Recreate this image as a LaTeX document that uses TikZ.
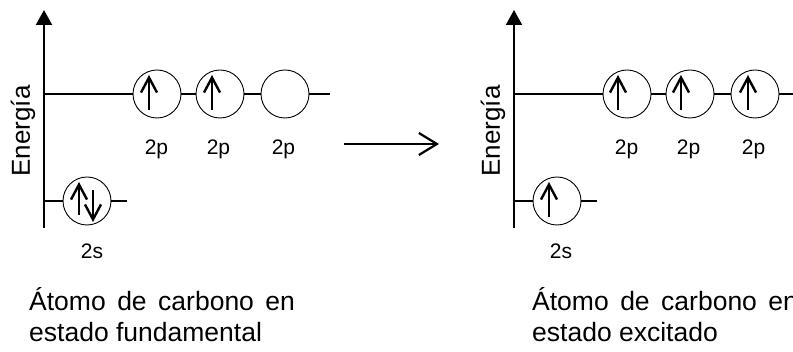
\documentclass[tikz,border=0pt]{standalone}
\usepackage{fontspec}
\setmainfont{Liberation Sans}
\usetikzlibrary{arrows.meta}

\newcommand{\legendfont}{\fontsize{26.5}{30}\selectfont}
\newcommand{\legendwidefont}{\fontsize{26.5}{30}\selectfont\spaceskip 11.5pt\relax}

\tikzset{
  orb/.style = {circle, draw, line width=0.9pt, minimum size=48pt, inner sep=0pt},
  level/.style = {line width=1.8pt},
  axis/.style = {line width=2pt, -{Triangle[length=15pt, width=16pt]}},
  spin/.style = {line width=2.4pt, -{Straight Barb[length=15pt, width=16pt]}},
  react/.style = {line width=2.2pt, -{Straight Barb[length=18pt, width=22pt]}},
  lbl/.style = {font=\fontsize{21}{24}\selectfont, inner sep=0pt, anchor=base},
  legend/.style = {font=\legendfont, inner sep=0pt, anchor=base west},
  legendwide/.style = {legend, font=\legendwidefont},
}

\begin{document}
\begin{tikzpicture}[x=1pt, y=-1pt]
		\useasboundingbox (0,0) rectangle (793,352);
		%%%%%%%%%%%%% estado fundamental
		\coordinate (a0) at (44,228); \coordinate (a1) at (44,10);
		\coordinate (ap0) at (44,94); \coordinate (ap4) at (330,94);
		\coordinate (as0) at (44,201); \coordinate (as2) at (127,201);
		\node [orb] (ap1) at (157,94) {};
		\node [orb] (ap2) at (220,94) {};
		\node [orb] (ap3) at (285,94) {};
		\node [orb] (as1) at (87,201) {};
		\node [rotate=90, font=\fontsize{26}{30}\selectfont] (ea) at (23,131) {Energía};
		\node [lbl] (lap1) at (156.5,155) {2p};
		\node [lbl] (lap2) at (218.5,155) {2p};
		\node [lbl] (lap3) at (283.5,155) {2p};
		\node [lbl] (las1) at (92,259) {2s};
		\node [legendwide] (ca1) at (29,311) {Átomo de carbono en};
		\node [legend] (ca2) at (29,342) {estado fundamental};
		%%%%%%%%%%%%%
		\draw [axis] (a0) -- (a1);
		\draw [level] (ap0) -- (ap1); \draw [level] (ap1) -- (ap2);
		\draw [level] (ap2) -- (ap3); \draw [level] (ap3) -- (ap4);
		\draw [level] (as0) -- (as1); \draw [level] (as1) -- (as2);
		\draw [spin] ([shift={(-8,16)}]ap1.center) -- ++(0,-35);
		\draw [spin] ([shift={(-8,16)}]ap2.center) -- ++(0,-35);
		\draw [spin] ([shift={(-8,14)}]as1.center) -- ++(0,-33);
		\draw [spin] ([shift={(6,-11)}]as1.center) -- ++(0,32);
		%%%%%%%%%%%%% reaccion
		\coordinate (go0) at (344,144); \coordinate (go1) at (439,144);
		\draw [react] (go0) -- (go1);
		%%%%%%%%%%%%% estado excitado
		\coordinate (b0) at (514,228); \coordinate (b1) at (514,10);
		\coordinate (bp0) at (514,94); \coordinate (bp4) at (800,94);
		\coordinate (bs0) at (514,201); \coordinate (bs2) at (597,201);
		\node [orb] (bp1) at (627,94) {};
		\node [orb] (bp2) at (690,94) {};
		\node [orb] (bp3) at (755,94) {};
		\node [orb] (bs1) at (557,201) {};
		\node [rotate=90, font=\fontsize{26}{30}\selectfont] (eb) at (493,131) {Energía};
		\node [lbl] (lbp1) at (626.5,155) {2p};
		\node [lbl] (lbp2) at (688.5,155) {2p};
		\node [lbl] (lbp3) at (753.5,155) {2p};
		\node [lbl] (lbs1) at (561,259) {2s};
		\node [legendwide] (cb1) at (532,311) {Átomo de carbono en};
		\node [legend] (cb2) at (532,342) {estado excitado};
		%%%%%%%%%%%%%
		\draw [axis] (b0) -- (b1);
		\draw [level] (bp0) -- (bp1); \draw [level] (bp1) -- (bp2);
		\draw [level] (bp2) -- (bp3); \draw [level] (bp3) -- (bp4);
		\draw [level] (bs0) -- (bs1); \draw [level] (bs1) -- (bs2);
		\draw [spin] ([shift={(-9,16)}]bp1.center) -- ++(0,-35);
		\draw [spin] ([shift={(-9,16)}]bp2.center) -- ++(0,-35);
		\draw [spin] ([shift={(-7,16)}]bp3.center) -- ++(0,-35);
		\draw [spin] ([shift={(-8,16)}]bs1.center) -- ++(0,-35);
\end{tikzpicture}
\end{document}
